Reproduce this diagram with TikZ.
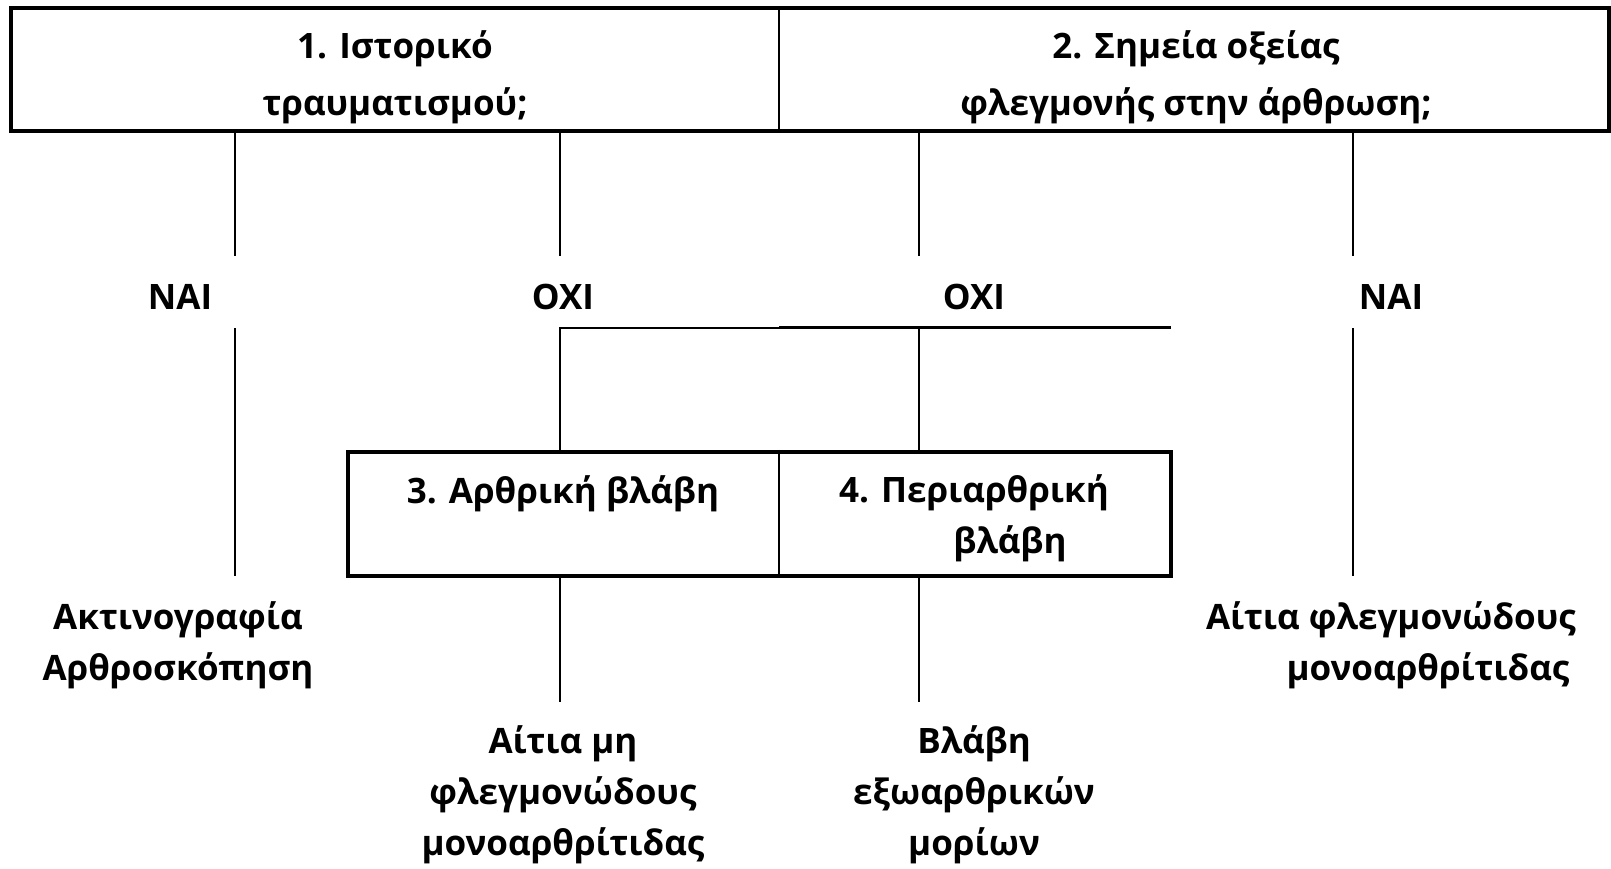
\documentclass[tikz,border=0pt]{standalone}
\usepackage{fontspec}
\setmainfont{Open Sans}
\begin{document}
\begin{tikzpicture}[x=1pt,y=-1pt,
  lbl/.style={font=\bfseries\fontsize{35}{51}\selectfont, align=center, inner sep=0pt},
  toplbl/.style={font=\bfseries\fontsize{35}{57}\selectfont, align=center, inner sep=0pt},
  cell/.style={inner sep=0pt, outer sep=0pt},
  frame/.style={line width=3.3pt},
  conn/.style={line width=2pt},
  divide/.style={line width=1.6pt},
  thickconn/.style={line width=3pt}]
\useasboundingbox[fill=white] (0,0) rectangle (1611,868);

% top boxes
\node[cell, minimum width=768pt, minimum height=123pt] (q1) at (395,69.5) {};
\node[cell, minimum width=830pt, minimum height=123pt] (q2) at (1194,69.5) {};
\draw[frame] (q1.north west) rectangle (q2.south east);
\draw[divide] (q1.north east) -- (q1.south east);
\node[toplbl] (t1) at (395,77.5) {1. Ιστορικό\\τραυματισμού;};
\node[toplbl] (t2) at (1196,77.5) {2. Σημεία οξείας\\φλεγμονής στην άρθρωση;};

% bottom boxes
\node[cell, minimum width=431pt, minimum height=124pt] (r3) at (563.5,514) {};
\node[cell, minimum width=392pt, minimum height=124pt] (r4) at (975,514) {};
\draw[frame] (r3.north west) rectangle (r4.south east);
\draw[divide] (r3.north east) -- (r3.south east);
\node[lbl] (t3) at (563,493.5) {3. Αρθρική βλάβη};
\node[lbl] (t4) at (974,518.5) {4. Περιαρθρική\\\hspace*{72pt}βλάβη};

% answer labels
\node[lbl] (nai1) at (180,297) {ΝΑΙ};
\node[lbl] (oxi1) at (563,297) {ΟΧΙ};
\node[lbl] (oxi2) at (974,297) {ΟΧΙ};
\node[lbl] (nai2) at (1391,297) {ΝΑΙ};

% outcomes
\node[lbl] (a1) at (178,645) {Ακτινογραφία\\Αρθροσκόπηση};
\node[lbl] (a2) at (1391,645) {Αίτια φλεγμονώδους\\\hspace*{74pt}μονοαρθρίτιδας};
\node[lbl] (a3) at (563,795) {Αίτια μη\\φλεγμονώδους\\μονοαρθρίτιδας};
\node[lbl] (a4) at (974,795) {Βλάβη\\εξωαρθρικών\\μορίων};

% connector points
\coordinate (c1u) at (235,256);  \coordinate (c1d) at (235,328);  \coordinate (c1e) at (235,576);
\coordinate (c2u) at (560,256);  \coordinate (c2d) at (560,327.5); \coordinate (c2e) at (560,702);
\coordinate (c3u) at (919,256);  \coordinate (c3d) at (919,327.5); \coordinate (c3e) at (919,702);
\coordinate (c4u) at (1353,256); \coordinate (c4d) at (1353,328); \coordinate (c4e) at (1353,576);
\coordinate (jn) at (779,327.5); \coordinate (jr) at (1171,327.5);

\draw[conn] (q1.south -| c1u) -- (c1u);
\draw[conn] (c1d) -- (c1e);
\draw[conn] (q1.south -| c2u) -- (c2u);
\draw[conn] (r3.north -| c2d) -- (c2d) -- (jn);
\draw[thickconn] (jn) -- (jr);
\draw[conn] (r3.south -| c2e) -- (c2e);
\draw[conn] (q2.south -| c3u) -- (c3u);
\draw[conn] (c3d) -- (r4.north -| c3d);
\draw[conn] (r4.south -| c3e) -- (c3e);
\draw[conn] (q2.south -| c4u) -- (c4u);
\draw[conn] (c4d) -- (c4e);
\end{tikzpicture}
\end{document}
